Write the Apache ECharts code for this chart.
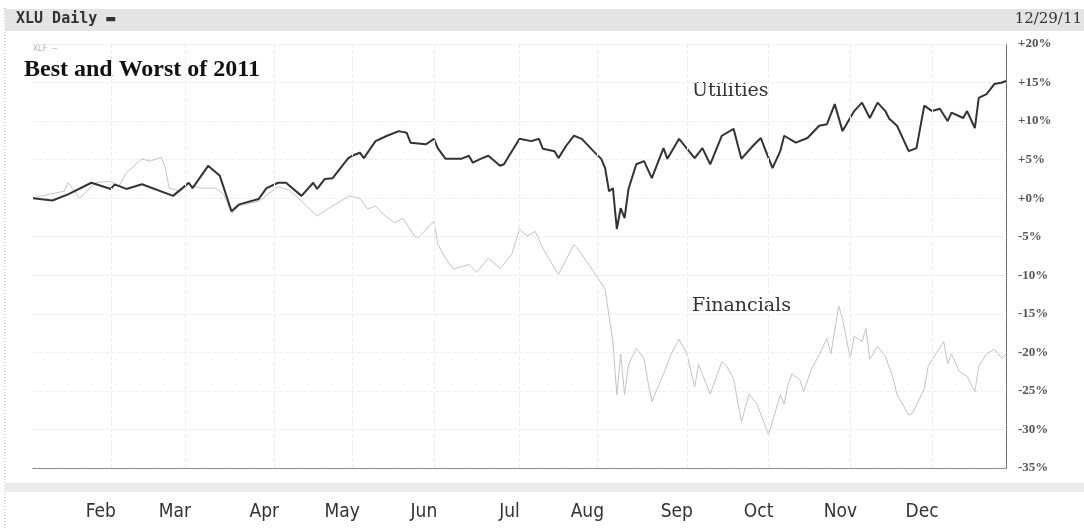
<!DOCTYPE html>
<html>
<head>
<meta charset="utf-8">
<script src="https://cdn.jsdelivr.net/npm/echarts@6/dist/echarts.min.js"></script>
<style>
html,body{margin:0;padding:0;background:#fff;}
#chart{width:1084px;height:529px;}
</style>
</head>
<body>
<div id="chart"></div>
<script>
// Trading-day index (0 = Jan 3 2011, 250 = Dec 29 2011) and % change since start
const utilDays = [0,5,9,15,20,21,24,28,36,40,41,45,48,51,53,58,60,63,65,69,72,73,75,77,81,82,84,85,88,91,94,96,97,101,103,104,106,110,112,113,115,117,120,121,125,128,130,131,134,135,137,139,141,144,146,147,148,149,150,151,152,153,155,157,159,162,163,166,170,172,174,177,180,182,185,187,190,192,193,196,199,202,204,206,208,211,213,215,217,219,220,222,225,227,229,231,233,235,236,239,240,242,243,245,247,249,250];
const utilPct = [0,-0.3,0.5,2.0,1.2,1.8,1.2,1.8,0.3,2.0,1.3,4.2,2.9,-1.7,-0.8,-0.1,1.3,2.0,2.0,0.3,2.0,1.2,2.5,2.6,5.2,5.5,5.9,5.2,7.4,8.1,8.7,8.5,7.2,7.0,7.7,6.5,5.1,5.1,5.5,4.6,5.1,5.5,4.2,4.4,7.7,7.4,7.7,6.4,6.1,5.2,6.8,8.1,7.7,6.1,5.1,3.9,0.9,1.3,-4.0,-1.3,-2.6,1.2,4.4,4.8,2.6,6.5,5.1,7.7,5.2,6.5,4.4,8.1,9.0,5.1,6.8,7.8,3.9,6.1,8.1,7.2,7.8,9.4,9.6,12.2,8.7,11.3,12.4,10.4,12.4,11.3,10.3,9.4,6.1,6.5,12.0,11.3,11.6,10.0,11.1,10.4,11.3,9.1,13.0,13.5,14.8,15.0,15.2];

const finDays = [0,4,8,9,12,16,20,22,24,28,30,33,34,35,38,40,43,47,49,51,53,58,63,66,69,73,76,79,81,84,86,88,90,93,95,98,99,103,104,106,108,112,114,117,120,123,125,127,129,131,135,139,141,144,147,148,149,150,151,152,153,155,157,158,159,162,164,166,168,170,171,174,177,178,180,182,184,186,189,192,193,194,195,197,198,200,202,204,205,207,208,210,211,213,214,215,217,219,221,222,225,226,229,230,232,234,235,236,238,240,242,243,245,247,249,250];
const finPct = [0,0.5,0.9,2.0,0.0,2.0,2.2,1.5,3.3,5.1,4.8,5.3,3.9,1.3,0.9,1.8,1.3,1.3,0.5,-2.0,-1.0,-0.4,1.5,1.0,-0.4,-2.3,-1.3,-0.4,0.3,0,-1.4,-1.0,-2.1,-3.2,-2.6,-4.9,-5.1,-3.0,-6.0,-7.8,-9.2,-8.6,-9.6,-7.8,-9.1,-7.3,-4.0,-4.9,-4.3,-6.5,-9.9,-6.0,-7.3,-9.5,-11.8,-15.3,-18.6,-25.5,-20.2,-25.5,-21.6,-19.5,-20.8,-23.8,-26.4,-22.8,-20.2,-18.3,-20.2,-24.5,-21.6,-25.4,-21.2,-21.6,-23.4,-29,-25.4,-26.7,-30.7,-25.5,-26.7,-24.2,-22.8,-23.5,-25.1,-22.2,-20.3,-18.2,-20.2,-14.0,-15.6,-20.8,-17.9,-18.6,-16.9,-20.9,-19.2,-20.5,-23.4,-25.5,-28.1,-27.9,-24.7,-21.8,-20.2,-18.6,-21.5,-20.2,-22.5,-23.1,-25.1,-21.8,-20.2,-19.6,-20.8,-20.2];

const monthStarts = [20,39,62,82,103,125,145,168,189,210,231];
const monthLabels = ['Feb','Mar','Apr','May','Jun','Jul','Aug','Sep','Oct','Nov','Dec'];
const yMin = -35, yMax = 20, yStep = 5;

const zip = (xs, ys) => xs.map((x, i) => [x, ys[i]]);

const chart = echarts.init(document.getElementById('chart'), null, {renderer: 'canvas'});
chart.setOption({
  animation: false,
  backgroundColor: '#ffffff',
  grid: {left: 33, right: 78, top: 44, bottom: 61, containLabel: false},
  xAxis: {
    type: 'value', min: 0, max: 250,
    axisLine: {show: true, onZero: false, lineStyle: {color: '#777', width: 1, type: 'dotted'}},
    axisTick: {show: false},
    splitLine: {show: false},
    axisLabel: {
      customValues: monthStarts,
      formatter: v => monthLabels[monthStarts.indexOf(v)] || '',
      margin: 35,
      color: '#333',
      fontFamily: '"DejaVu Sans Condensed","Liberation Sans Narrow",sans-serif',
      fontSize: 19,
      align: 'center',
      padding: [0, 20, 0, 0]
    }
  },
  yAxis: {
    type: 'value', position: 'right', min: yMin, max: yMax, interval: yStep,
    axisLine: {show: true, onZero: false, lineStyle: {color: '#555', width: 1, type: 'dotted'}},
    axisTick: {show: false},
    splitLine: {show: true, lineStyle: {color: '#eeeeee', type: 'dashed', width: 1}},
    axisLabel: {
      formatter: v => (v >= 0 ? '+' : '') + v + '%',
      margin: 12,
      color: '#555',
      fontFamily: '"Liberation Serif","DejaVu Serif",serif',
      fontWeight: 'bold',
      fontSize: 13
    }
  },
  series: [
    {
      name: 'Financials', type: 'line', data: zip(finDays, finPct),
      symbol: 'none', z: 2,
      lineStyle: {color: '#c4c4c4', width: 1},
      markLine: {
        silent: true, symbol: 'none', label: {show: false},
        lineStyle: {color: '#eeeeee', type: 'dashed', width: 1},
        data: monthStarts.map(v => ({xAxis: v}))
      }
    },
    {
      name: 'Utilities', type: 'line', data: zip(utilDays, utilPct),
      symbol: 'none', z: 3,
      lineStyle: {color: '#333333', width: 2}
    }
  ],
  graphic: [
    {type: 'line', shape: {x1: 5, y1: 8, x2: 5, y2: 529}, style: {stroke: '#aaa', lineWidth: 1, lineDash: [1, 2]}},
    {type: 'rect', shape: {x: 5, y: 9, width: 1079, height: 22}, style: {fill: '#e4e4e4'}},
    {type: 'text', left: 16, top: 12, style: {text: 'XLU Daily ▬', fill: '#333', font: 'bold 15px "DejaVu Sans Mono", monospace'}},
    {type: 'text', right: 2, top: 12, style: {text: '12/29/11', fill: '#333', font: '15px "DejaVu Serif", serif'}},
    {type: 'text', left: 33, top: 45, style: {text: 'XLF —', fill: '#b0b0b0', font: '8px "DejaVu Sans Mono", monospace'}},
    {type: 'text', left: 24, top: 58, style: {text: 'Best and Worst of 2011', fill: '#111', font: 'bold 24px "Liberation Serif", serif'}},
    {type: 'text', left: 692, top: 82, style: {text: 'Utilities', fill: '#333', font: '19px "DejaVu Serif", serif'}},
    {type: 'text', left: 692, top: 297, style: {text: 'Financials', fill: '#333', font: '19px "DejaVu Serif", serif'}},
    {type: 'rect', shape: {x: 5, y: 483, width: 1079, height: 9}, style: {fill: '#ececec'}}
  ]
});
</script>
</body>
</html>
